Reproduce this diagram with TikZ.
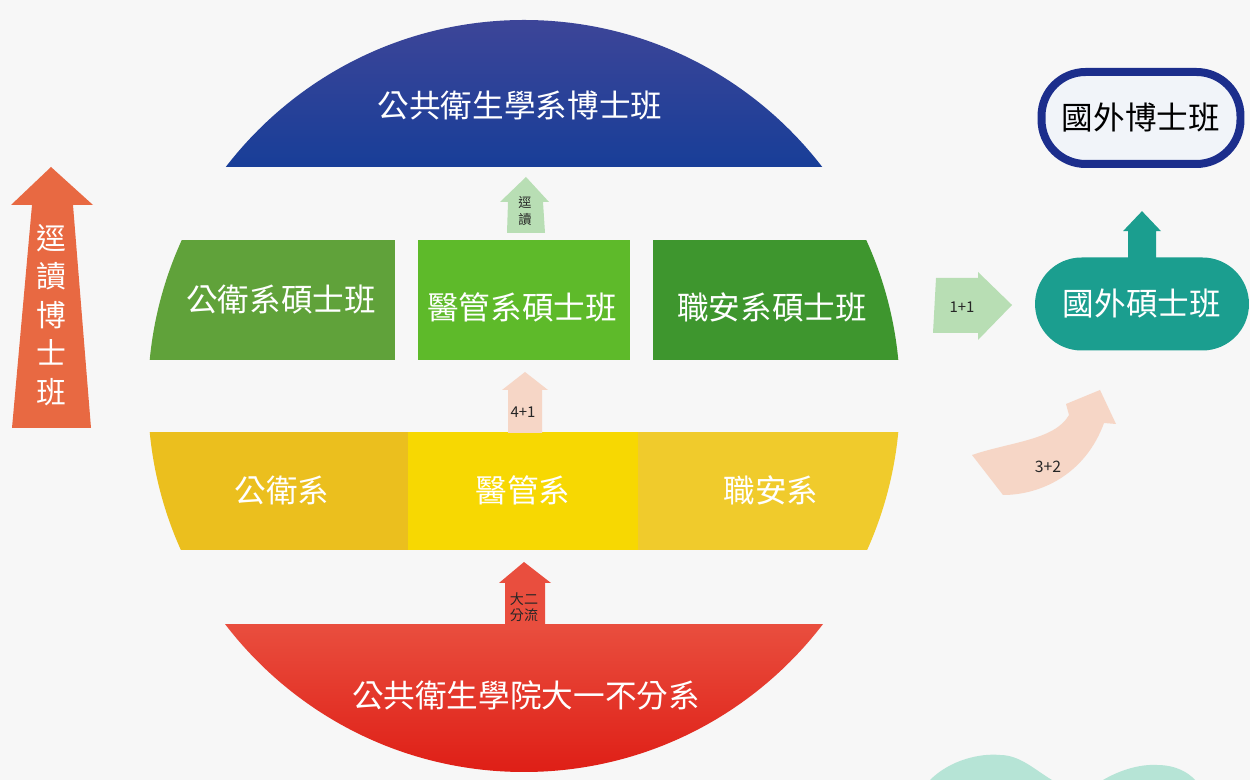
\documentclass[tikz,border=0pt]{standalone}
\usepackage{fontspec}
\newfontfamily\cjk{Noto Sans CJK TC}

\definecolor{bgGray}{RGB}{247,247,247}
\definecolor{phdTop}{RGB}{66,70,152}
\definecolor{phdBottom}{RGB}{24,62,152}
\definecolor{greenA}{RGB}{96,162,58}
\definecolor{greenB}{RGB}{94,186,42}
\definecolor{greenC}{RGB}{62,150,46}
\definecolor{yellowA}{RGB}{235,191,30}
\definecolor{yellowB}{RGB}{247,216,2}
\definecolor{yellowC}{RGB}{240,203,44}
\definecolor{redTop}{RGB}{233,78,62}
\definecolor{redBottom}{RGB}{222,28,20}
\definecolor{orangeArrow}{RGB}{232,105,66}
\definecolor{mintArrow}{RGB}{184,222,180}
\definecolor{peachArrow}{RGB}{246,214,198}
\definecolor{tealBox}{RGB}{27,158,143}
\definecolor{navyRim}{RGB}{28,46,140}
\definecolor{paleFill}{RGB}{241,244,249}
\definecolor{mintBlob}{RGB}{182,228,214}

\begin{document}
\begin{tikzpicture}[x = 0.02cm, y = 0.02cm, font = \cjk,
	big/.style = {text = white, font = \cjk\fontsize{18}{21}\selectfont},
	tiny/.style = {text = black!85, align = center, inner sep = 0pt, font = \cjk\fontsize{7.5}{10}\selectfont}]

	% Background
	
		\fill [bgGray] (0, 0) rectangle (1250, 780);
		\useasboundingbox (0, 0) rectangle (1250, 780);
		
		\fill [mintBlob] (930, 0) .. controls (950, 20) and (980, 27) .. (1000, 25) .. controls (1020, 25) and (1035, 10) .. (1052, 0) -- cycle;
		\fill [mintBlob] (1103, 0) .. controls (1120, 10) and (1140, 16) .. (1157, 15) .. controls (1175, 15) and (1188, 8) .. (1195, 0) -- cycle;

	% Circle bands
	
		\begin{scope}
		
			\clip (524, 384) circle (376);
			
			\shade [top color = phdTop, bottom color = phdBottom] (140, 613) rectangle (910, 780);
			
			\fill [greenA] (140, 420) rectangle (395, 540);
			\fill [greenB] (418, 420) rectangle (630, 540);
			\fill [greenC] (653, 420) rectangle (910, 540);
			
			\fill [yellowA] (140, 230) rectangle (408, 348);
			\fill [yellowB] (408, 230) rectangle (638, 348);
			\fill [yellowC] (638, 230) rectangle (910, 348);
			
			\shade [top color = redTop, bottom color = redBottom] (140, 0) rectangle (910, 155);
		
		\end{scope}
		
	% Block arrows
	
		\fill [orangeArrow] (12, 352) -- (32, 575) -- (11, 575) -- (51, 613) -- (93, 575) -- (73, 575) -- (91, 352) -- cycle;
		\fill [mintArrow] (507, 547) -- (508, 578) -- (500, 578) -- (526, 603) -- (549, 578) -- (543, 578) -- (545, 547) -- cycle;
		\fill [peachArrow] (508, 347) -- (508, 390) -- (502, 390) -- (525, 408) -- (548, 390) -- (542, 390) -- (542, 347) -- cycle;
		\fill [redTop] (505, 150) -- (505, 197) -- (499, 197) -- (524, 218) -- (551, 197) -- (545, 197) -- (545, 150) -- cycle;
		\fill [mintArrow] (933, 447) -- (978, 447) -- (978, 440) -- (1012, 475) -- (978, 508) -- (978, 502) -- (936, 502) -- cycle;
		\fill [peachArrow] (972, 325) .. controls (1010, 338) and (1055, 340) .. (1069, 365) -- (1066, 376) -- (1100, 390) -- (1116, 356) -- (1104, 357) .. controls (1085, 305) and (1040, 285) .. (1003, 285) -- cycle;

	% Labels
	
		\node (phd) [big] at (520, 675) {公共衛生學系博士班};
		
		\node (master1) [big] at (281, 480) {公衛系碩士班};
		\node (master2) [big] at (522, 473) {醫管系碩士班};
		\node (master3) [big] at (772, 473) {職安系碩士班};
		
		\node (dept1) [big] at (282, 290) {公衛系};
		\node (dept2) [big] at (523, 290) {醫管系};
		\node (dept3) [big] at (771, 290) {職安系};
		
		\node (freshman) [big] at (526, 85) {公共衛生學院大一不分系};
		
		\node (direct) [big, align = center, font = \cjk\fontsize{17}{22}\selectfont] at (51, 465) {逕\\讀\\博\\士\\班};
		
		\node (directSmall) [tiny] at (525, 569) {逕\\讀};
		\node (plan41) [tiny, font = \cjk\fontsize{8.5}{10}\selectfont] at (523, 368) {4+1};
		\node (split) [tiny, font = \cjk\fontsize{8}{9}\selectfont] at (524, 173) {大二\\分流};
		\node (plan11) [tiny, font = \cjk\fontsize{8.5}{10}\selectfont] at (962, 473) {1+1};
		\node (plan32) [tiny, font = \cjk\fontsize{9}{10}\selectfont] at (1048, 313) {3+2};

	% Abroad programmes
	
		\node (abroadPhd) [draw = navyRim, line width = 0.16cm, fill = paleFill, rounded corners = 0.88cm, minimum width = 3.98cm, minimum height = 1.84cm, font = \cjk\fontsize{18}{21}\selectfont] at (1141, 662) {國外博士班};
		\node (abroadMaster) [big, fill = tealBox, rounded corners = 0.93cm, minimum width = 4.28cm, minimum height = 1.86cm] at (1142, 476) {國外碩士班};
		
		\fill [tealBox] ([xshift = -0.28cm, yshift = -0.1cm] abroadMaster.north) -- ++(0, 31) -- ++(-5, 0) -- ++(19, 20) -- ++(19, -20) -- ++(-5, 0) -- ++(0, -31) -- cycle;

\end{tikzpicture}
\end{document}
